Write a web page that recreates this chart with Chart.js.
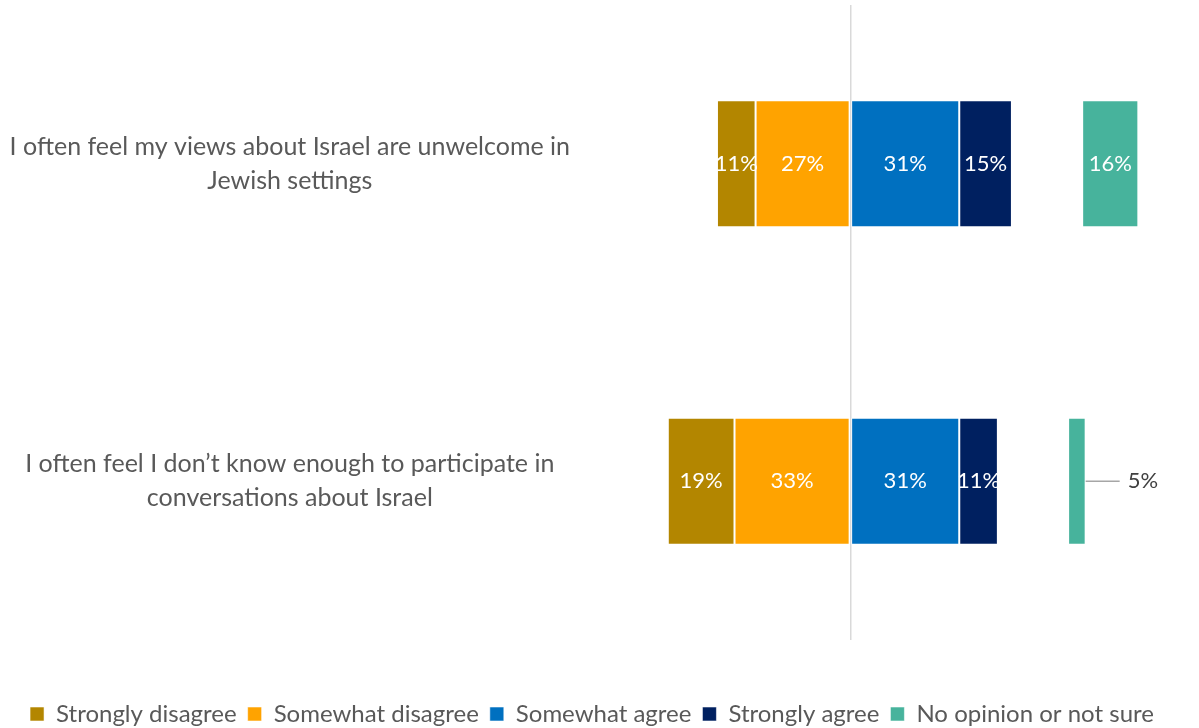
<!DOCTYPE html>
<html>
<head>
<meta charset="utf-8">
<script src="https://cdn.jsdelivr.net/npm/chart.js@4"></script>
<style>
  html, body { margin: 0; padding: 0; background: #fff; }
  #wrap { width: 1199px; height: 728px; }
</style>
</head>
<body>
<div id="wrap"><canvas id="israelChart"></canvas></div>
<script>
const statements = [
    ["I often feel my views about Israel are unwelcome in", "Jewish settings"],
    ["I often feel I don\u2019t know enough to participate in", "conversations about Israel"]
];
const stronglyDisagree = [11, 19];
const somewhatDisagree = [27, 33];
const somewhatAgree = [31, 31];
const stronglyAgree = [15, 11];
const noOpinion = [16, 5];
const gap = [20, 20];   // empty space between agree and no-opinion bars

const FONT = "Lato, 'Open Sans', sans-serif";

// disagree goes left of zero; first negative dataset sits next to the axis
function neg(arr) { return arr.map(v => -v); }

const segLabels = {
    id: 'segLabels',
    afterDatasetsDraw(chart) {
        const ctx = chart.ctx;
        ctx.save();
        ctx.font = "22px " + FONT;
        ctx.textBaseline = "middle";
        chart.data.datasets.forEach((ds, i) => {
            if (ds.isGap) return;
            const meta = chart.getDatasetMeta(i);
            meta.data.forEach((bar, j) => {
                const v = Math.abs(ds.data[j]);
                const left = Math.min(bar.x, bar.base);
                const right = Math.max(bar.x, bar.base);
                const txt = v + "%";
                if (ds.outsideSmall && v < 8) {
                    ctx.strokeStyle = "#a6a6a6";
                    ctx.lineWidth = 1.5;
                    ctx.beginPath();
                    ctx.moveTo(right, bar.y);
                    ctx.lineTo(right + 34, bar.y);
                    ctx.stroke();
                    ctx.fillStyle = "#404040";
                    ctx.textAlign = "left";
                    ctx.fillText(txt, right + 42, bar.y);
                } else {
                    ctx.fillStyle = "#ffffff";
                    ctx.textAlign = "center";
                    ctx.fillText(txt, (left + right) / 2, bar.y);
                }
            });
        });
        ctx.restore();
    }
};

const legendOrder = ["Strongly disagree", "Somewhat disagree", "Somewhat agree", "Strongly agree", "No opinion or not sure"];

function barSet(label, data, color) {
    return {
        label: label,
        data: data,
        backgroundColor: color,
        borderColor: "rgba(255,255,255,0.55)",
        borderWidth: 1,
        borderSkipped: false
    };
}

const datasets = [
    barSet("Somewhat disagree", neg(somewhatDisagree), "#FFA300"),
    barSet("Strongly disagree", neg(stronglyDisagree), "#B38600"),
    barSet("Somewhat agree", somewhatAgree, "#0070C0"),
    barSet("Strongly agree", stronglyAgree, "#002060"),
    { label: "gap", data: gap, backgroundColor: "rgba(0,0,0,0)", isGap: true },
    Object.assign(barSet("No opinion or not sure", noOpinion, "#47B39C"), { outsideSmall: true })
];

new Chart(document.getElementById("israelChart"), {
    type: 'bar',
    data: { labels: statements, datasets: datasets },
    plugins: [segLabels],
    options: {
        indexAxis: 'y',
        responsive: true,
        maintainAspectRatio: false,
        animation: false,
        datasets: { bar: { barPercentage: 1, categoryPercentage: 0.4 } },
        layout: { padding: { top: 5, right: 15, left: 0, bottom: -8 } },
        scales: {
            x: {
                stacked: true,
                min: -77,
                max: 95,
                afterFit: scale => { scale.height = 51; },
                ticks: { display: false },
                border: { display: false },
                grid: {
                    drawTicks: false,
                    lineWidth: 1.5,
                    color: c => c.tick && c.tick.value === 0 ? "#d9d9d9" : "rgba(0,0,0,0)"
                }
            },
            y: {
                stacked: true,
                grid: { display: false },
                border: { display: false },
                afterFit: scale => {
                    scale.width = 580;
                    scale.paddingTop = 0;
                    scale.paddingBottom = 0;
                },
                ticks: {
                    crossAlign: 'center',
                    padding: 2,
                    color: "#595959",
                    font: { family: FONT, size: 25, lineHeight: 1.36 }
                }
            }
        },
        plugins: {
            tooltip: { enabled: false },
            legend: {
                position: 'bottom',
                labels: {
                    color: "#595959",
                    font: { family: FONT, size: 24 },
                    boxWidth: 14,
                    boxHeight: 14,
                    padding: 11,
                    filter: item => item.text !== "gap",
                    sort: (a, b) => legendOrder.indexOf(a.text) - legendOrder.indexOf(b.text)
                }
            }
        }
    }
});
</script>
</body>
</html>
